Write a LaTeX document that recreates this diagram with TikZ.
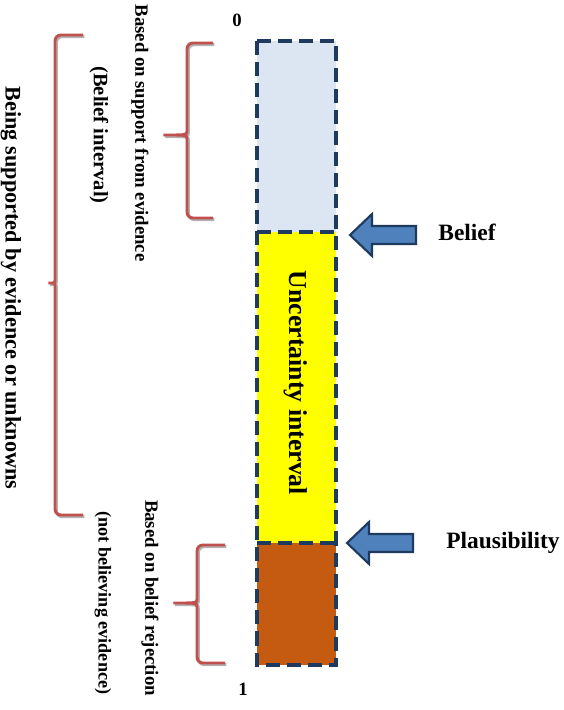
\documentclass[tikz,border=0pt]{standalone}
\usepackage{fontspec}
\setmainfont{Liberation Serif}
\usepackage{tikz}
\usepackage{xcolor}
\usetikzlibrary{positioning, calc}

\definecolor{beliefblue}{HTML}{DCE6F2}
\definecolor{uncertyellow}{HTML}{FFFF00}
\definecolor{rejectbrown}{HTML}{C55A11}
\definecolor{navyline}{HTML}{1F3A5F}
\definecolor{arrowblue}{HTML}{4F81BD}
\definecolor{bracered}{HTML}{C0504D}

\begin{document}
\begin{tikzpicture}[
        x=0.03cm, y=-0.03cm,
        % Styles
        barline/.style={draw=navyline, line width=2.6pt, dash pattern=on 12pt off 6pt},
        sidelab/.style={rotate=-90, inner sep=0pt, align=center},
        bracered/.style={draw=bracered, line width=2.5pt, rounded corners=5pt},
        braceshade/.style={draw=black!30, line width=2.5pt, rounded corners=5pt},
        blockarrow/.style={fill=arrowblue, draw=navyline, line width=1.8pt, line join=miter},
        marklab/.style={font=\bfseries\fontsize{20}{24}\selectfont, inner sep=0pt},
        numlab/.style={font=\bfseries\fontsize{16}{18}\selectfont, inner sep=0pt},
    ]
        \useasboundingbox (0,0) rectangle (563,710);

        % === BAR ===
        \coordinate (bartl) at (257,41);
        \coordinate (beliefl) at (257,232);
        \coordinate (beliefr) at (336,232);
        \coordinate (plausl) at (257,543);
        \coordinate (plausr) at (336,543);
        \coordinate (barbr) at (336,665);

        \fill[beliefblue] (bartl) rectangle (beliefr);
        \fill[uncertyellow] (beliefl) rectangle (plausr);
        \fill[rejectbrown] (plausl) rectangle (barbr);
        \draw[barline] (bartl) rectangle (barbr);
        \draw[barline] (beliefl) -- (beliefr);
        \draw[barline] (plausl) -- (plausr);

        \node[sidelab, font=\bfseries\fontsize{22}{26}\selectfont] (uncert) at (296,383) {Uncertainty interval};

        % scale ends
        \node[numlab] (zero) at (237,20) {0};
        \node[numlab] (one) at (243,689) {1};

        % === POINTERS ===
        \coordinate (beliefptr) at (350,235);
        \coordinate (plausptr) at (347,543);
        \foreach \ptr in {beliefptr, plausptr}
            \draw[blockarrow] (\ptr) -- ++(22,-21) -- ++(0,12) -- ++(44,0) -- ++(0,18)
                -- ++(-44,0) -- ++(0,12) -- cycle;

        \node[marklab] (belieflab) at (467,232) {Belief};
        \node[marklab] (plauslab) at (503,543) {Plausibility};

        % === BRACES ===
        \foreach \bx/\btop/\bmid/\bbot/\btip/\bend in {187/43/135/218/160/213, 55/35/283/515/45/83, 197/545/603/663/170/225} {
            \draw[braceshade, xshift=1.2pt, yshift=-1.4pt] (\bend,\btop) -- (\bx,\btop) -- (\bx,\bmid-10)
                .. controls (\bx,\bmid) .. (\btip,\bmid) .. controls (\bx,\bmid) .. (\bx,\bmid+10)
                -- (\bx,\bbot) -- (\bend,\bbot);
            \draw[bracered] (\bend,\btop) -- (\bx,\btop) -- (\bx,\bmid-10)
                .. controls (\bx,\bmid) .. (\btip,\bmid) .. controls (\bx,\bmid) .. (\bx,\bmid+10)
                -- (\bx,\bbot) -- (\bend,\bbot);
        }

        % === SIDE LABELS ===
        \node[sidelab, font=\bfseries\fontsize{16}{19}\selectfont] (supportlab) at (140,133) {Based on support from evidence};
        \node[sidelab, font=\bfseries\fontsize{17.5}{20}\selectfont] (beliefint) at (99,135) {(Belief interval)};
        \node[sidelab, font=\bfseries\fontsize{19}{22}\selectfont] (beinglab) at (11,288) {Being supported by evidence or unknowns};
        \node[sidelab, font=\bfseries\fontsize{16}{19}\selectfont] (rejectlab) at (150,598) {Based on belief rejection};
        \node[sidelab, font=\bfseries\fontsize{15.5}{18}\selectfont] (notbel) at (103,603) {(not believing evidence)};

    \end{tikzpicture}
\end{document}
